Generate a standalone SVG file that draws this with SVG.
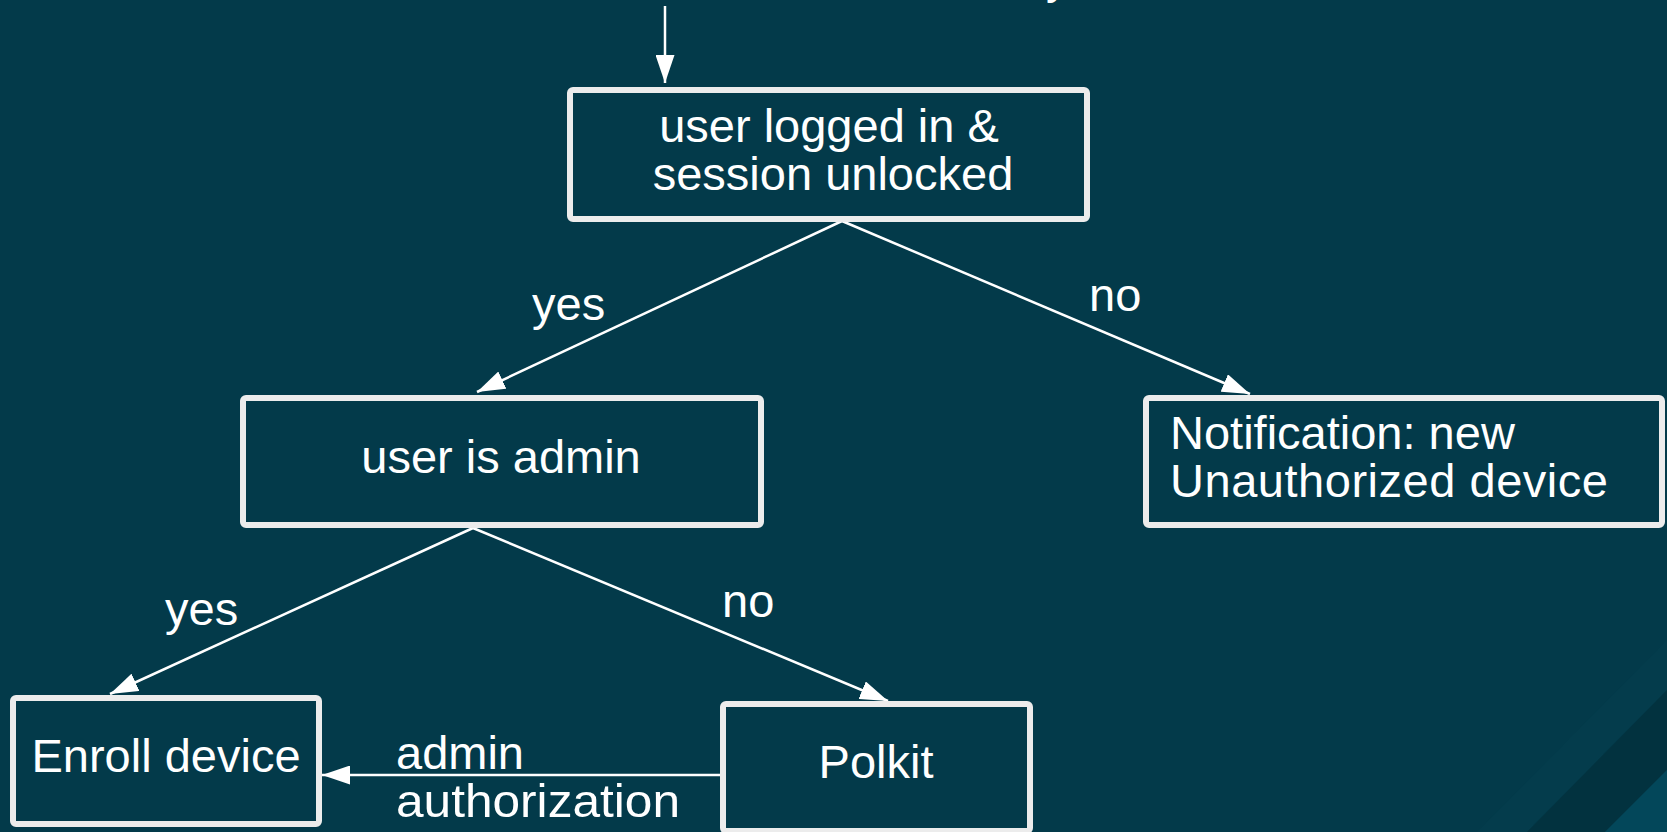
<svg xmlns="http://www.w3.org/2000/svg" width="1667" height="832" viewBox="0 0 1667 832">
  <defs>
    <style>
      .bg { fill: #033a4a; }
      .node rect { fill: #033a4a; stroke: #ececec; stroke-width: 6; }
      .label { font-family: "Liberation Sans", Arial, sans-serif; font-size: 47px; fill: #ffffff; }
      .mid { text-anchor: middle; }
      .edge { stroke: #ffffff; stroke-width: 2.5; fill: none; }
    </style>
    <marker id="arrow" viewBox="0 0 28 19" refX="28" refY="9.5" markerWidth="28" markerHeight="19" markerUnits="userSpaceOnUse" orient="auto">
      <path d="M0,0 L28,9.5 L0,19 z" fill="#ffffff"/>
    </marker>
  </defs>

  <!-- background with corner bands -->
  <rect class="bg" x="0" y="0" width="1667" height="832"/>
  <polygon points="1667,640 1667,690 1527,832 1477,832" fill="#043c4c"/>
  <polygon points="1667,690 1667,770 1605,832 1527,832" fill="#02323f"/>
  <polygon points="1667,770 1667,832 1605,832" fill="#03475a"/>

  <!-- tail of a label running above the frame -->
  <text class="label" x="1046" y="-7">y</text>

  <!-- connectors -->
  <g id="connectors">
    <line class="edge" x1="665" y1="6" x2="665" y2="83" marker-end="url(#arrow)"/>
    <line class="edge" x1="842" y1="221" x2="477" y2="392" marker-end="url(#arrow)"/>
    <line class="edge" x1="842" y1="221" x2="1250" y2="394" marker-end="url(#arrow)"/>
    <line class="edge" x1="473" y1="528" x2="110" y2="694" marker-end="url(#arrow)"/>
    <line class="edge" x1="473" y1="528" x2="888" y2="701" marker-end="url(#arrow)"/>
    <line class="edge" x1="721" y1="775" x2="322" y2="775" marker-end="url(#arrow)"/>
    <text class="label" x="532" y="320">yes</text>
    <text class="label" x="1089" y="311">no</text>
    <text class="label" x="165" y="625">yes</text>
    <text class="label" x="722" y="617">no</text>
    <text class="label" x="396" y="769">admin</text>
    <text class="label" x="396" y="817" textLength="284" lengthAdjust="spacingAndGlyphs">authorization</text>
  </g>

  <g id="session" class="node">
    <rect x="570" y="90" width="517" height="129" rx="3"/>
    <text class="label mid" x="829" y="142">user logged in &amp;</text>
    <text class="label mid" x="833" y="190">session unlocked</text>
  </g>

  <g id="admin" class="node">
    <rect x="243" y="398" width="518" height="127" rx="3"/>
    <text class="label mid" x="501" y="473">user is admin</text>
  </g>

  <g id="notify" class="node">
    <rect x="1146" y="398" width="516" height="127" rx="3"/>
    <text class="label" x="1170" y="449">Notification: new</text>
    <text class="label" x="1170" y="497" textLength="438" lengthAdjust="spacing">Unauthorized device</text>
  </g>

  <g id="enroll" class="node">
    <rect x="13" y="698" width="306" height="126" rx="3"/>
    <text class="label mid" x="166" y="772">Enroll device</text>
  </g>

  <g id="polkit" class="node">
    <rect x="723" y="704" width="307" height="127" rx="3"/>
    <text class="label mid" x="876" y="778">Polkit</text>
  </g>
</svg>
